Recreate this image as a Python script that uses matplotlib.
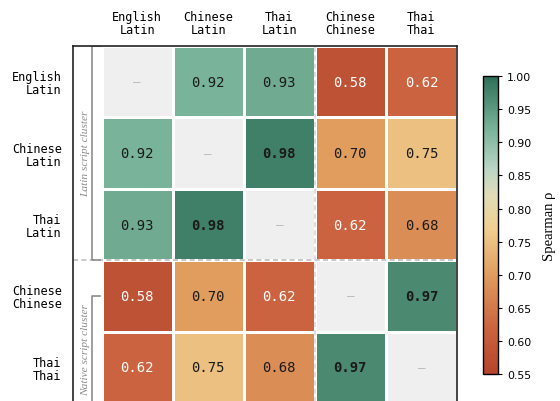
import numpy as np
import matplotlib
matplotlib.use("Agg")
import matplotlib.pyplot as plt
from matplotlib.colors import LinearSegmentedColormap, ListedColormap

# data
col_labels = ["English\nLatin", "Chinese\nLatin", "Thai\nLatin", "Chinese\nChinese", "Thai\nThai"]
row_labels = ["English\nLatin", "Chinese\nLatin", "Thai\nLatin", "Chinese\nChinese", "Thai\nThai"]
rho_en_latin = [np.nan, 0.92, 0.93, 0.58, 0.62]
rho_zh_latin = [0.92, np.nan, 0.98, 0.70, 0.75]
rho_th_latin = [0.93, 0.98, np.nan, 0.62, 0.68]
rho_zh_native = [0.58, 0.70, 0.62, np.nan, 0.97]
rho_th_native = [0.62, 0.75, 0.68, 0.97, np.nan]
cbar_ticks = [0.55, 0.60, 0.65, 0.70, 0.75, 0.80, 0.85, 0.90, 0.95, 1.00]

rho = np.array([rho_en_latin, rho_zh_latin, rho_th_latin, rho_zh_native, rho_th_native])
n = len(row_labels)
vmin, vmax = 0.55, 1.00

# colormap rust -> sand -> sage -> teal
nodes = [(0.55, "#b5442b"), (0.62, "#cb6440"), (0.70, "#e09d5e"), (0.77, "#f0cf90"),
         (0.82, "#e2dcb8"), (0.86, "#bad6c6"), (0.92, "#7ab39a"), (1.00, "#2f6f58")]
cmap = LinearSegmentedColormap.from_list(
    "rho", [((v - vmin) / (vmax - vmin), c) for v, c in nodes])

mono = "DejaVu Sans Mono"
serif = "Liberation Serif"

fig = plt.figure(figsize=(5.6, 4.02), dpi=100)
ax = fig.add_axes([0.130, -0.005, 0.686, 0.888])

masked = np.ma.masked_invalid(rho)
x = np.arange(n + 1) - 0.5
mesh = ax.pcolormesh(x, x, masked, cmap=cmap, vmin=vmin, vmax=vmax,
                     edgecolors="white", linewidth=2)
diag = np.where(np.isnan(rho), 1.0, np.nan)
ax.pcolormesh(x, x, np.ma.masked_invalid(diag), cmap=ListedColormap(["#efefef"]),
              edgecolors="white", linewidth=2)

for i in range(n):
    for j in range(n):
        v = rho[i, j]
        if np.isnan(v):
            ax.text(j, i, "\u2014", ha="center", va="center", color="#bbbbbb",
                    fontsize=9, family=mono)
            continue
        color = "white" if v < 0.65 else "#1a1a1a"
        weight = "bold" if v >= 0.97 else "normal"
        ax.text(j, i, f"{v:.2f}", ha="center", va="center", color=color,
                fontsize=10, family=mono, fontweight=weight)

ax.set_xlim(-0.906, n - 0.5)
ax.set_ylim(n - 0.5, -0.5)

# block separators
ax.axhline(2.5, color="0.75", lw=1.2, ls=(0, (3, 2)))
ax.axvline(2.5, color="0.85", lw=1.2, ls=(0, (3, 2)))

# cluster brackets
bx, tx = -0.64, -0.53
ax.plot([tx, bx, bx, tx], [-0.5, -0.5, 2.5, 2.5], color="0.55", lw=1.2)
ax.plot([tx, bx, bx], [3.0, 3.0, 5.2], color="0.55", lw=1.2)
ax.text(-0.72, 1.0, "Latin script cluster", rotation=90, ha="center", va="center",
        fontsize=8.2, family=serif, style="italic", color="0.55")
ax.text(-0.72, 3.74, "Native script cluster", rotation=90, ha="center", va="center",
        fontsize=8.2, family=serif, style="italic", color="0.55")

ax.xaxis.tick_top()
ax.set_xticks(range(n))
ax.set_xticklabels(col_labels, family=mono, fontsize=8.5, linespacing=1.0)
ax.set_yticks(range(n))
ax.set_yticklabels(row_labels, family=mono, fontsize=8.5, linespacing=1.0)
ax.tick_params(axis="x", length=0, pad=7)
ax.tick_params(axis="y", length=0, pad=8)
for s in ax.spines.values():
    s.set_linewidth(1.2)
    s.set_color("#222222")

cax = fig.add_axes([0.8625, 0.067, 0.027, 0.741])
cb = fig.colorbar(mesh, cax=cax, ticks=cbar_ticks)
cb.ax.set_yticklabels([f"{t:.2f}" for t in cbar_ticks], fontsize=7.8)
cb.outline.set_linewidth(1)
cb.ax.tick_params(length=3, width=0.8)
cb.set_label("Spearman \u03c1", family=serif, fontsize=10.5, labelpad=8)

fig.savefig("out.png", dpi=100)
